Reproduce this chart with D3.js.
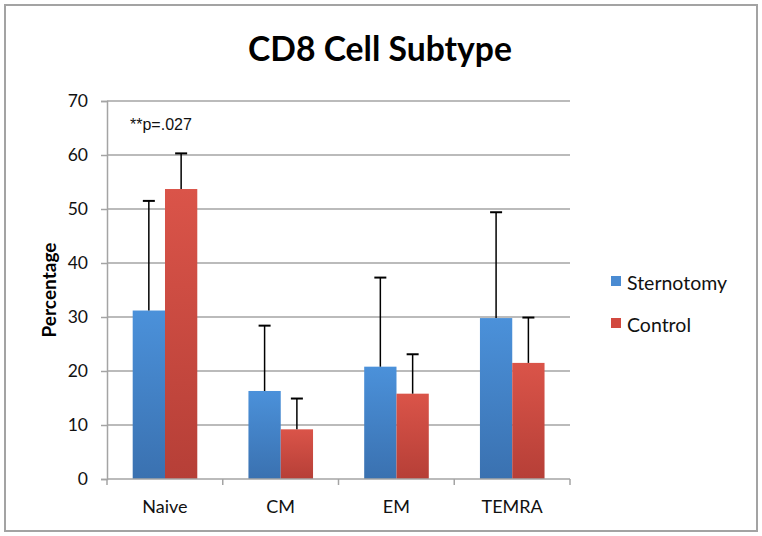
<!DOCTYPE html>
<html>
<head>
<meta charset="utf-8">
<script src="https://cdn.jsdelivr.net/npm/d3@7"></script>
<style>
html,body{margin:0;padding:0;background:#fff;}
svg{display:block;}
</style>
</head>
<body>
<svg id="chart" width="762" height="536"></svg>
<script>
const categories = ["Naive", "CM", "EM", "TEMRA"];
const seriesNames = ["Sternotomy", "Control"];
const sternotomy = [31.2, 16.3, 20.8, 29.8];
const sternotomyErr = [20.3, 12.1, 16.5, 19.6];
const control = [53.7, 9.2, 15.8, 21.5];
const controlErr = [6.6, 5.7, 7.3, 8.4];
const yTicks = [0, 10, 20, 30, 40, 50, 60, 70];
const titleText = "CD8 Cell Subtype";
const yTitle = "Percentage";
const annotation = "**p=.027";

const svg = d3.select("#chart");
const W = 762, H = 536;
const m = {left: 107, right: 192, top: 101, bottom: 57};
const plotW = W - m.left - m.right, plotH = H - m.top - m.bottom;

function fitText(sel, target, base) {
  const l = sel.node().getComputedTextLength();
  if (l > 0) sel.attr("font-size", base * target / l);
}

// outer frame
svg.append("rect").attr("x", 5).attr("y", 5).attr("width", 752).attr("height", 526)
  .attr("fill", "#fff").attr("stroke", "#a3a3a3").attr("stroke-width", 2);

const defs = svg.append("defs");
const grads = [["gBlue", "#4b91da", "#3a71b0"], ["gRed", "#da5449", "#b63f37"]];
grads.forEach(([id, c1, c2]) => {
  const g = defs.append("linearGradient").attr("id", id).attr("x1", 0).attr("y1", 0).attr("x2", 0).attr("y2", 1);
  g.append("stop").attr("offset", "0%").attr("stop-color", c1);
  g.append("stop").attr("offset", "100%").attr("stop-color", c2);
});
const fills = ["url(#gBlue)", "url(#gRed)"];
const legendColors = ["#4a8bd2", "#d2493f"];

const x0 = d3.scaleBand().domain(categories).range([m.left, m.left + plotW]).padding(0);
const bw = x0.bandwidth();
const x1 = d3.scaleBand().domain(seriesNames).range([bw * 0.222, bw * 0.78]).padding(0);
const y = d3.scaleLinear().domain([0, 70]).range([m.top + plotH, m.top]);

// gridlines
svg.append("g").selectAll("line").data(yTicks.filter(d => d > 0)).join("line")
  .attr("x1", m.left).attr("x2", m.left + plotW)
  .attr("y1", d => y(d)).attr("y2", d => y(d))
  .attr("stroke", "#a4a4a4").attr("stroke-width", 1.5);

// bars
const data = categories.map((c, i) => ({
  cat: c,
  vals: [
    {s: seriesNames[0], v: sternotomy[i], e: sternotomyErr[i], k: 0},
    {s: seriesNames[1], v: control[i], e: controlErr[i], k: 1}
  ]
}));
const groups = svg.append("g").selectAll("g").data(data).join("g")
  .attr("transform", d => `translate(${x0(d.cat)},0)`);
groups.selectAll("rect").data(d => d.vals).join("rect")
  .attr("x", d => x1(d.s)).attr("width", x1.bandwidth())
  .attr("y", d => y(d.v)).attr("height", d => y(0) - y(d.v))
  .attr("fill", d => fills[d.k]);

// error bars (upper only)
groups.selectAll("line.err").data(d => d.vals).join("line").attr("class", "err")
  .attr("x1", d => x1(d.s) + x1.bandwidth() / 2).attr("x2", d => x1(d.s) + x1.bandwidth() / 2)
  .attr("y1", d => y(d.v)).attr("y2", d => y(d.v + d.e))
  .attr("stroke", "#000").attr("stroke-width", 1.5);
groups.selectAll("line.cap").data(d => d.vals).join("line").attr("class", "cap")
  .attr("x1", d => x1(d.s) + x1.bandwidth() / 2 - 6).attr("x2", d => x1(d.s) + x1.bandwidth() / 2 + 6)
  .attr("y1", d => y(d.v + d.e)).attr("y2", d => y(d.v + d.e))
  .attr("stroke", "#000").attr("stroke-width", 2);

// y axis
const yAxis = d3.axisLeft(y).tickValues(yTicks).tickSize(6).tickPadding(13);
const gy = svg.append("g").attr("transform", `translate(${m.left},0)`).call(yAxis);
gy.select(".domain").attr("stroke", "#a4a4a4").attr("stroke-width", 1.5);
gy.selectAll(".tick line").attr("stroke", "#a4a4a4").attr("stroke-width", 1.5);
gy.selectAll(".tick text").attr("font-family", "Lato, sans-serif").attr("font-size", 17.5).attr("fill", "#111");

// x axis
const gx = svg.append("g").attr("transform", `translate(0,${y(0)})`);
gx.append("line").attr("x1", m.left).attr("x2", m.left + plotW).attr("y1", 0).attr("y2", 0)
  .attr("stroke", "#a4a4a4").attr("stroke-width", 1.5);
const bounds = categories.map(c => x0(c)).concat([m.left + plotW]);
gx.selectAll("line.tk").data(bounds).join("line").attr("class", "tk")
  .attr("x1", d => d).attr("x2", d => d).attr("y1", 0).attr("y2", 6)
  .attr("stroke", "#a4a4a4").attr("stroke-width", 1.5);
gx.selectAll("text").data(categories).join("text")
  .attr("x", d => x0(d) + bw / 2).attr("y", 34)
  .attr("text-anchor", "middle").attr("font-family", "Lato, sans-serif").attr("font-size", 18).attr("fill", "#111")
  .text(d => d);

// title
const t = svg.append("text").attr("x", 380).attr("y", 61).attr("text-anchor", "middle")
  .attr("font-family", "Lato, sans-serif").attr("font-weight", 700).attr("font-size", 32).attr("fill", "#000")
  .text(titleText);
fitText(t, 264, 32);

// y title
const yt = svg.append("text").attr("transform", `translate(56,${(y(0) + y(70)) / 2}) rotate(-90)`)
  .attr("text-anchor", "middle").attr("font-family", "Lato, sans-serif").attr("font-weight", 700)
  .attr("font-size", 16).attr("fill", "#000").text(yTitle);
fitText(yt, 95, 16);

// annotation
const an = svg.append("text").attr("x", 130).attr("y", 130)
  .attr("font-family", "'Liberation Sans', Arial, sans-serif").attr("font-size", 13).attr("fill", "#111")
  .text(annotation);
fitText(an, 62, 13);

// legend
const lg = svg.append("g").selectAll("g").data(seriesNames).join("g")
  .attr("transform", (d, i) => `translate(611,${276 + i * 42})`);
lg.append("rect").attr("width", 10).attr("height", 10).attr("fill", (d, i) => legendColors[i]);
lg.append("text").attr("x", 16).attr("y", 14).attr("font-family", "Lato, sans-serif")
  .attr("font-size", 19.5).attr("fill", "#111").text(d => d);
</script>
</body>
</html>
